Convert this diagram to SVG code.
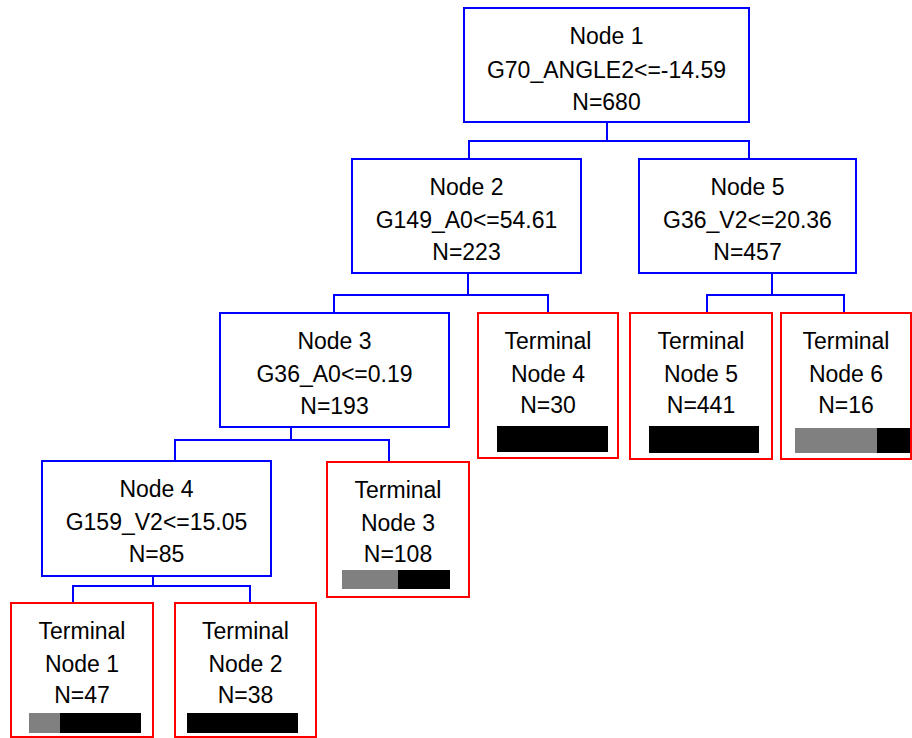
<svg xmlns="http://www.w3.org/2000/svg" width="912" height="738" viewBox="0 0 912 738">
<style>
.n{fill:#fff;stroke:#0000ff;stroke-width:2}
.t{fill:#fff;stroke:#ff0000;stroke-width:2}
.c{fill:none;stroke:#0000ff;stroke-width:2}
text{font-family:"Liberation Sans",Arial,sans-serif;font-size:23px;fill:#000;text-anchor:middle}
.g{fill:#808080}
.b{fill:#000}
</style>
<rect width="912" height="738" fill="#fff"/>
<g id="connectors">
<path class="c" d="M607,122V141M469,159V141H749V159"/>
<path class="c" d="M468,273V295M334,313V295H548V313"/>
<path class="c" d="M772,273V295M707,313V295H844V313"/>
<path class="c" d="M291,427V440M175,461V440H389V462"/>
<path class="c" d="M153,576V586M73,603V586H250V603"/>
</g>
<g id="node1">
<rect class="n" x="464" y="8" width="285" height="114"/>
<text x="606.5" y="44">Node 1</text>
<text x="606.5" y="78">G70_ANGLE2&lt;=-14.59</text>
<text x="606.5" y="110">N=680</text>
</g>
<g id="node2">
<rect class="n" x="352" y="159" width="229" height="114"/>
<text x="466.5" y="195">Node 2</text>
<text x="466.5" y="228">G149_A0&lt;=54.61</text>
<text x="466.5" y="260">N=223</text>
</g>
<g id="node5">
<rect class="n" x="639" y="159" width="217" height="114"/>
<text x="747.5" y="195">Node 5</text>
<text x="747.5" y="228">G36_V2&lt;=20.36</text>
<text x="747.5" y="260">N=457</text>
</g>
<g id="node3">
<rect class="n" x="220" y="313" width="229" height="114"/>
<text x="334.5" y="349">Node 3</text>
<text x="334.5" y="382">G36_A0&lt;=0.19</text>
<text x="334.5" y="414">N=193</text>
</g>
<g id="node4">
<rect class="n" x="42" y="461" width="229" height="115"/>
<text x="156.5" y="497">Node 4</text>
<text x="156.5" y="530">G159_V2&lt;=15.05</text>
<text x="156.5" y="562">N=85</text>
</g>
<g id="terminal4">
<rect class="t" x="478" y="313" width="140" height="145"/>
<text x="548" y="349">Terminal</text>
<text x="548" y="382">Node 4</text>
<text x="548" y="413">N=30</text>
<rect class="b" x="497" y="426" width="111" height="26"/>
</g>
<g id="terminal5">
<rect class="t" x="630" y="313" width="142" height="146"/>
<text x="701" y="349">Terminal</text>
<text x="701" y="382">Node 5</text>
<text x="701" y="413">N=441</text>
<rect class="b" x="649" y="426" width="110" height="27"/>
</g>
<g id="terminal6">
<rect class="t" x="781" y="313" width="130" height="146"/>
<text x="846" y="349">Terminal</text>
<text x="846" y="382">Node 6</text>
<text x="846" y="413">N=16</text>
<rect class="g" x="795" y="428" width="82" height="25"/>
<rect class="b" x="877" y="428" width="33" height="25"/>
</g>
<g id="terminal3">
<rect class="t" x="327" y="462" width="142" height="135"/>
<text x="398" y="498">Terminal</text>
<text x="398" y="531">Node 3</text>
<text x="398" y="562">N=108</text>
<rect class="g" x="342" y="570" width="56" height="19"/>
<rect class="b" x="398" y="570" width="52" height="19"/>
</g>
<g id="terminal1">
<rect class="t" x="11" y="603" width="142" height="134"/>
<text x="82" y="639">Terminal</text>
<text x="82" y="672">Node 1</text>
<text x="82" y="703">N=47</text>
<rect class="g" x="29" y="713" width="31" height="20"/>
<rect class="b" x="60" y="713" width="81" height="20"/>
</g>
<g id="terminal2">
<rect class="t" x="175" y="603" width="141" height="134"/>
<text x="245.5" y="639">Terminal</text>
<text x="245.5" y="672">Node 2</text>
<text x="245.5" y="703">N=38</text>
<rect class="b" x="187" y="713" width="111" height="20"/>
</g>
</svg>
